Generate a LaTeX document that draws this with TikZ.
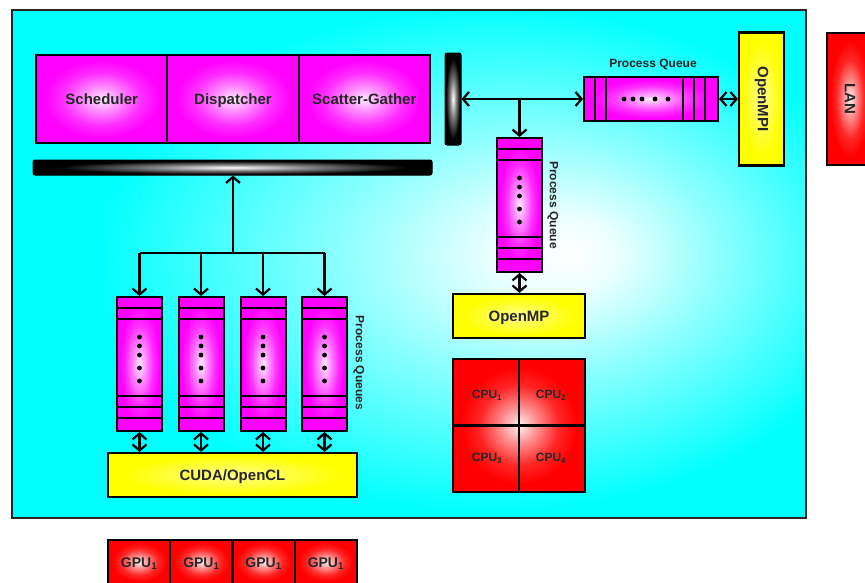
\documentclass[tikz,border=0pt]{standalone}
\usepackage{fontspec}
\usepackage{graphicx}
\setmainfont{Liberation Sans}
\usetikzlibrary{arrows.meta,calc}
\pgfdeclareradialshading{bgsh}{\pgfpoint{10bp}{1bp}}{color(0bp)=(white);color(4bp)=(white!92!cyan);color(12bp)=(white!55!cyan);color(25bp)=(cyan);color(50bp)=(cyan)}
\pgfdeclareradialshading{magsh}{\pgfpointorigin}{color(0bp)=(white!92!magenta);color(7bp)=(white!55!magenta);color(15bp)=(white!18!magenta);color(22bp)=(magenta);color(50bp)=(magenta)}
\pgfdeclareradialshading{redsh}{\pgfpointorigin}{color(0bp)=(white!95!red);color(7bp)=(white!55!red);color(15bp)=(white!15!red);color(22bp)=(red);color(50bp)=(red)}
\pgfdeclareradialshading{yelsh}{\pgfpointorigin}{color(0bp)=(white!55!yellow);color(22bp)=(yellow);color(50bp)=(yellow)}
\pgfdeclareradialshading{barsh}{\pgfpointorigin}{color(0bp)=(white);color(10bp)=(gray);color(22bp)=(black);color(50bp)=(black)}
\newcommand\myvq[3]{%
  \node[queue, minimum width=45pt, minimum height=134pt] (#1) at (#2,#3) {};
  \foreach \off in {12,23,100,111,122} \draw[qline] ($(#1.north west)+(0,\off)$) -- ($(#1.north east)+(0,\off)$);
  \foreach \off in {41,50,59,72,85} \fill ($(#1.north)+(0,\off)$) circle[radius=2.4pt];
}
\newcommand\myhq[3]{%
  \node[queue, minimum width=134pt, minimum height=44pt] (#1) at (#2,#3) {};
  \foreach \off in {12,23,100,111,122} \draw[qline] ($(#1.north west)+(\off,0)$) -- ($(#1.south west)+(\off,0)$);
  \foreach \off in {41,50,59,72,85} \fill ($(#1.west)+(\off,0)$) circle[radius=2.4pt];
}
\begin{document}
\begin{tikzpicture}[x=1pt,y=-1pt,
  txtzero/.style={font=\fontsize{15}{18}\selectfont\bfseries, text=black!85},
  txt/.style={txtzero, text height=10.7pt, text depth=0pt},
  frame/.style={draw=black!85, line width=2pt, shade, shading=bgsh, minimum width=794pt, minimum height=508pt, inner sep=0pt},
  cell/.style={txt, draw, line width=2.2pt, shade, shading=magsh, minimum width=131.3pt, minimum height=88pt, inner sep=0pt},
  bar/.style={draw, line width=1pt, rounded corners=2pt, shade, shading=barsh, inner sep=0pt},
  queue/.style={draw, line width=2pt, shade, shading=magsh, inner sep=0pt},
  qline/.style={line width=1.8pt},
  yboxzero/.style={draw, line width=2.2pt, shade, shading=yelsh, inner sep=0pt},
  rboxzero/.style={draw, line width=2.2pt, shade, shading=redsh, inner sep=0pt},
  ybox/.style={txt, yboxzero},
  rbox/.style={txt, rboxzero},
  plabel/.style={font=\fontsize{12}{14}\selectfont\bfseries, text=black!85, inner sep=0pt},
  clabel/.style={font=\fontsize{12}{14}\selectfont\bfseries, text=black!85, inner sep=0pt, text height=8.6pt, text depth=0pt},
  conn/.style={line width=2.2pt},
  arr/.style={conn, -{Straight Barb[length=6pt,width=14pt]}},
  dbl/.style={conn, {Straight Barb[length=6pt,width=14pt]}-{Straight Barb[length=6pt,width=14pt]}}
]
\useasboundingbox (0,0) rectangle (865,582);
\clip (0,0) rectangle (865,582);

\node[frame] (frame) at (409,264) {};

% top block
\node[cell] (sched) at (101.7,99) {Scheduler};
\node[cell] (disp) at (233,99) {Dispatcher};
\node[cell] (sg) at (364.3,99) {Scatter-Gather};

% bars
\node[bar, minimum width=399pt, minimum height=15pt] (hbar) at (232.5,167.5) {};
\node[bar, minimum width=16pt, minimum height=92pt] (vbar) at (453,99) {};

% GPU queues
\myvq{q1}{139.5}{364}
\myvq{q2}{201}{364}
\myvq{q3}{263}{364}
\myvq{q4}{324.5}{364}
\node[plabel, rotate=-90] (pqs) at (359,363) {Process Queues};

\node[ybox, minimum width=249pt, minimum height=44pt] (cuda) at (232.5,475) {CUDA/OpenCL};

\coordinate (j1) at (233,253);
\draw[arr] (j1) -- (j1 |- hbar.south);
\draw[conn] (q1.north |- j1) -- (q4.north |- j1);
\foreach \q in {q1,q2,q3,q4} {
  \draw[arr] (\q.north |- j1) -- (\q.north);
  \draw[dbl] (\q.south) -- (\q.south |- cuda.north);
}

% right side
\myhq{hq}{651}{99}
\node[plabel] (hql) at (653,64) {Process Queue};
\myvq{vq}{519.5}{205}
\node[plabel, rotate=-90] (vql) at (553,205) {Process Queue};

\node[txtzero, yboxzero, minimum width=45pt, minimum height=133pt] (ompi) at (761.5,99) {\rotatebox{-90}{OpenMPI}};
\node[txtzero, rboxzero, minimum width=46pt, minimum height=132pt] (lan) at (850,99) {\rotatebox{-90}{LAN}};

\coordinate (j2) at (519.5,99);
\draw[dbl] (vbar.east) -- (hq.west);
\draw[arr] (j2) -- (vq.north);
\draw[dbl] (hq.east) -- (ompi.west);

\node[ybox, minimum width=132pt, minimum height=44pt] (omp) at (519,316) {OpenMP};
\draw[dbl] (vq.south) -- (vq.south |- omp.north);

% CPU block
\node[rbox, minimum width=132pt, minimum height=133pt] (cpu) at (519,425.5) {};
\draw[conn] (cpu.north) -- (cpu.south);
\draw[conn] (cpu.west) -- (cpu.east);
\node[clabel] (c1) at (487,394) {CPU\textsubscript{1}};
\node[clabel] (c2) at (551,394) {CPU\textsubscript{2}};
\node[clabel] (c3) at (487,457) {CPU\textsubscript{3}};
\node[clabel] (c4) at (551,457) {CPU\textsubscript{4}};

% GPU row
\tikzset{gcell/.style={rbox, font=\fontsize{14}{16}\selectfont\bfseries, text height=10pt, minimum width=62.25pt, minimum height=44pt}}
\node[gcell] (g1) at (139.1,562) {GPU\textsubscript{1}};
\node[gcell] (g2) at (201.4,562) {GPU\textsubscript{1}};
\node[gcell] (g3) at (263.6,562) {GPU\textsubscript{1}};
\node[gcell] (g4) at (325.9,562) {GPU\textsubscript{1}};
\end{tikzpicture}
\end{document}
